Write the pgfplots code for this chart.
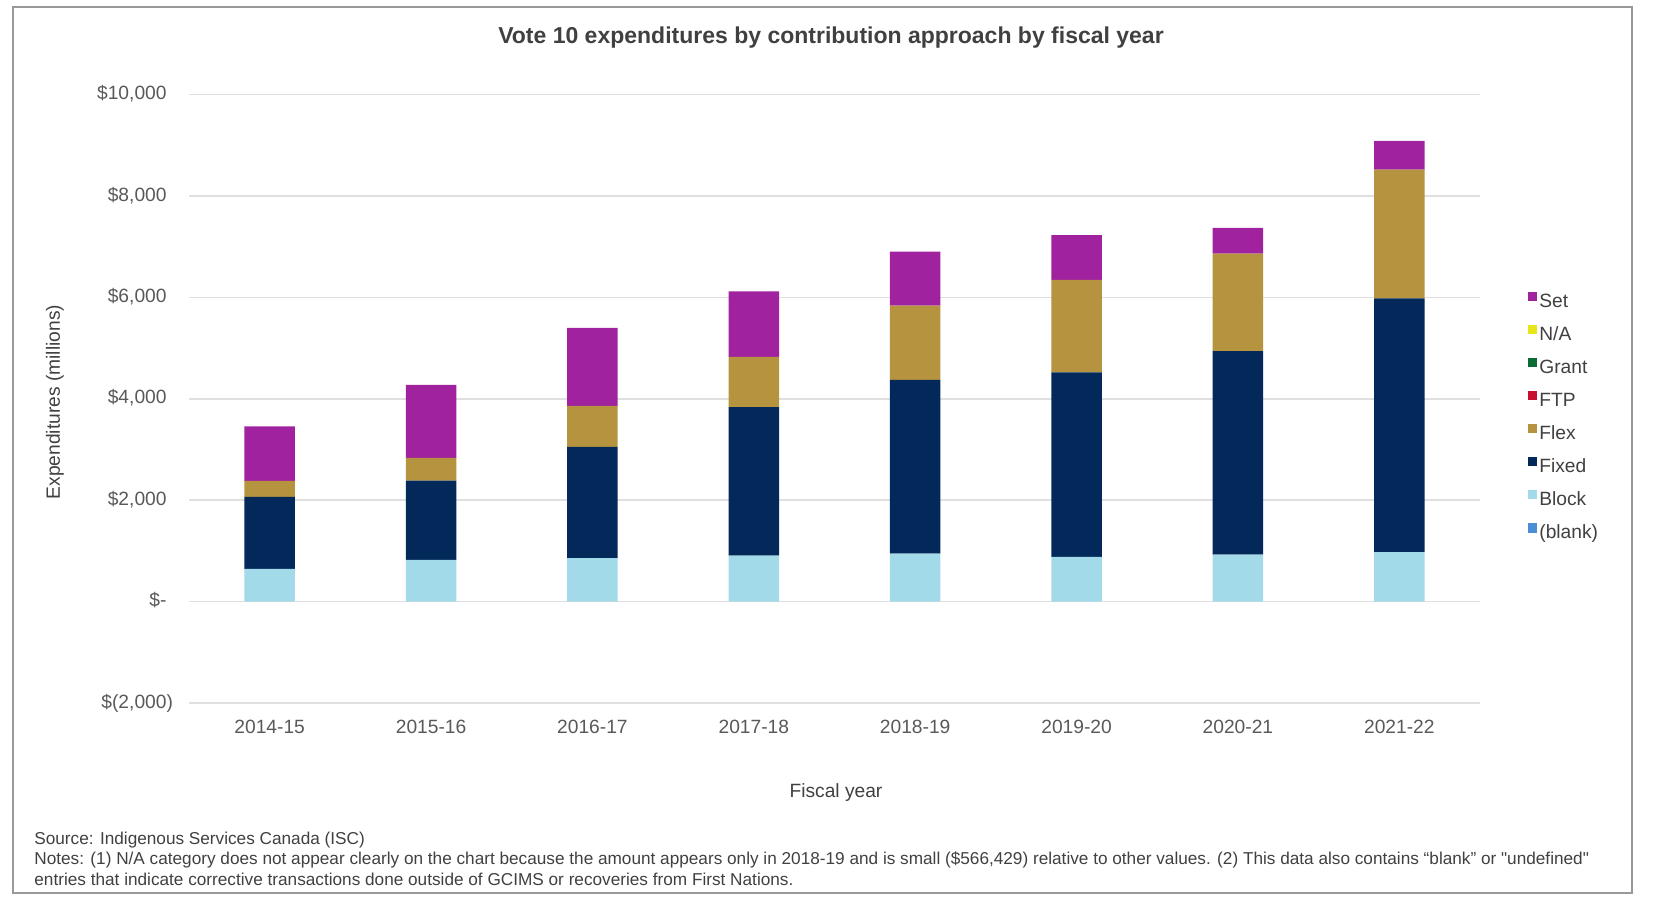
\documentclass[border=0pt]{standalone}
\usepackage{pgfplots}
\usepackage{pgfplotstable}
\pgfplotsset{compat=1.18}
\usepackage{fontspec}
\setmainfont{Liberation Sans}
\newfontfamily\rawfont{Liberation Sans}[Ligatures=TeXOff]
\definecolor{cset}{HTML}{A0229F}
\definecolor{cna}{HTML}{E8E61A}
\definecolor{cgrant}{HTML}{0B6B35}
\definecolor{cftp}{HTML}{C8102E}
\definecolor{cflex}{HTML}{B6933F}
\definecolor{cfixed}{HTML}{03295A}
\definecolor{cblock}{HTML}{A3DAEA}
\definecolor{cblank}{HTML}{4A8FD6}
\definecolor{txt}{HTML}{404040}
\definecolor{tick}{HTML}{595959}
\pgfplotstableread{
x blank block fixed flex ftp grant na set
0 0 644 1423 313 0 0 0 1073
1 0 825 1562 446 0 0 0 1441
2 0 856 2197 807 0 0 0 1540
3 0 906 2927 994 0 0 0 1290
4 0 946 3425 1466 0 0 0.566 1063
5 0 883 3638 1824 0 0 0 880
6 0 927 4011 1922 0 0 0 508
7 0 975 5005 2537 0 0 0 570
}\data
\begin{document}
\begin{tikzpicture}
\begin{axis}[
  at={(94.5pt,-351.5pt)}, anchor=south west,
  scale only axis, width=645.5pt, height=304.25pt,
  ybar stacked, bar width=25.3pt,
  xmin=-0.5, xmax=7.5, ymin=-2000, ymax=10000,
  scaled y ticks=false,
  xtick={0,...,7},
  xticklabels={2014-15,2015-16,2016-17,2017-18,2018-19,2019-20,2020-21,2021-22},
  ytick={-2000,0,2000,4000,6000,8000,10000},
  yticklabels={{\$(2,000)},{\$-\phantom{)}\hspace{5pt}},{\$2,000\phantom{)}},{\$4,000\phantom{)}},{\$6,000\phantom{)}},{\$8,000\phantom{)}},{\$10,000\phantom{)}}},
  ymajorgrids, grid style={draw=black!12, line width=0.8pt},
  axis line style={draw=none}, major tick length=0pt,
  tick label style={font=\fontsize{9.6}{11}\selectfont, text=tick},
  yticklabel style={xshift=-4.5pt},
  xticklabel style={yshift=-5pt},
  every axis plot/.append style={draw=none},
  reverse legend,
  legend cell align=left,
  legend image code/.code={\fill[#1] (0pt,0.6pt) rectangle (4.6pt,5.2pt);},
  legend style={at={(1.037,0.6776)}, anchor=north west, draw=none, fill=none,
    inner sep=0pt, row sep=5.55pt, font=\fontsize{9.6}{11}\selectfont, text=txt,
    nodes={inner sep=1pt, text height=7pt, text depth=2pt},
    /tikz/every even column/.append style={column sep=1pt}},
]
\addplot[fill=cblank] table[x=x,y=blank]{\data}; \addlegendentry{(blank)}
\addplot[fill=cblock] table[x=x,y=block]{\data}; \addlegendentry{Block}
\addplot[fill=cfixed] table[x=x,y=fixed]{\data}; \addlegendentry{Fixed}
\addplot[fill=cflex] table[x=x,y=flex]{\data}; \addlegendentry{Flex}
\addplot[fill=cftp] table[x=x,y=ftp]{\data}; \addlegendentry{FTP}
\addplot[fill=cgrant] table[x=x,y=grant]{\data}; \addlegendentry{Grant}
\addplot[fill=cna] table[x=x,y=na]{\data}; \addlegendentry{N/A}
\addplot[fill=cset] table[x=x,y=set]{\data}; \addlegendentry{Set}
\end{axis}
\begin{scope}[x=0.5pt,y=-0.5pt]
\path[use as bounding box] (0,0) rectangle (1654,906);
\draw[black!40, line width=1.2pt] (13,7) rectangle (1632,893);
\node[font=\bfseries\fontsize{11.5}{13}\selectfont, text=txt] at (831,38) {Vote 10 expenditures by contribution approach by fiscal year};
\node[rotate=90, font=\fontsize{9.6}{11}\selectfont, text=txt] at (55,402) {Expenditures (millions)};
\node[font=\fontsize{9.6}{11}\selectfont, text=txt] at (836,793) {Fiscal year};
\node[anchor=west, inner sep=0pt, font=\fontsize{8.6}{10}\selectfont, text=txt] at (34,840) {Source: Indigenous Services Canada (ISC)};
\node[anchor=west, inner sep=0pt, font=\fontsize{8.6}{10}\selectfont, text=txt] at (34,860) {Notes: (1) N/A category does not appear clearly on the chart because the amount appears only in 2018-19 and is small (\$566,429) relative to other values. (2) This data also contains “blank” or {\rawfont "undefined"}};
\node[anchor=west, inner sep=0pt, font=\fontsize{8.6}{10}\selectfont, text=txt] at (34,879) {entries that indicate corrective transactions done outside of GCIMS or recoveries from First Nations.};
\end{scope}
\end{tikzpicture}
\end{document}
